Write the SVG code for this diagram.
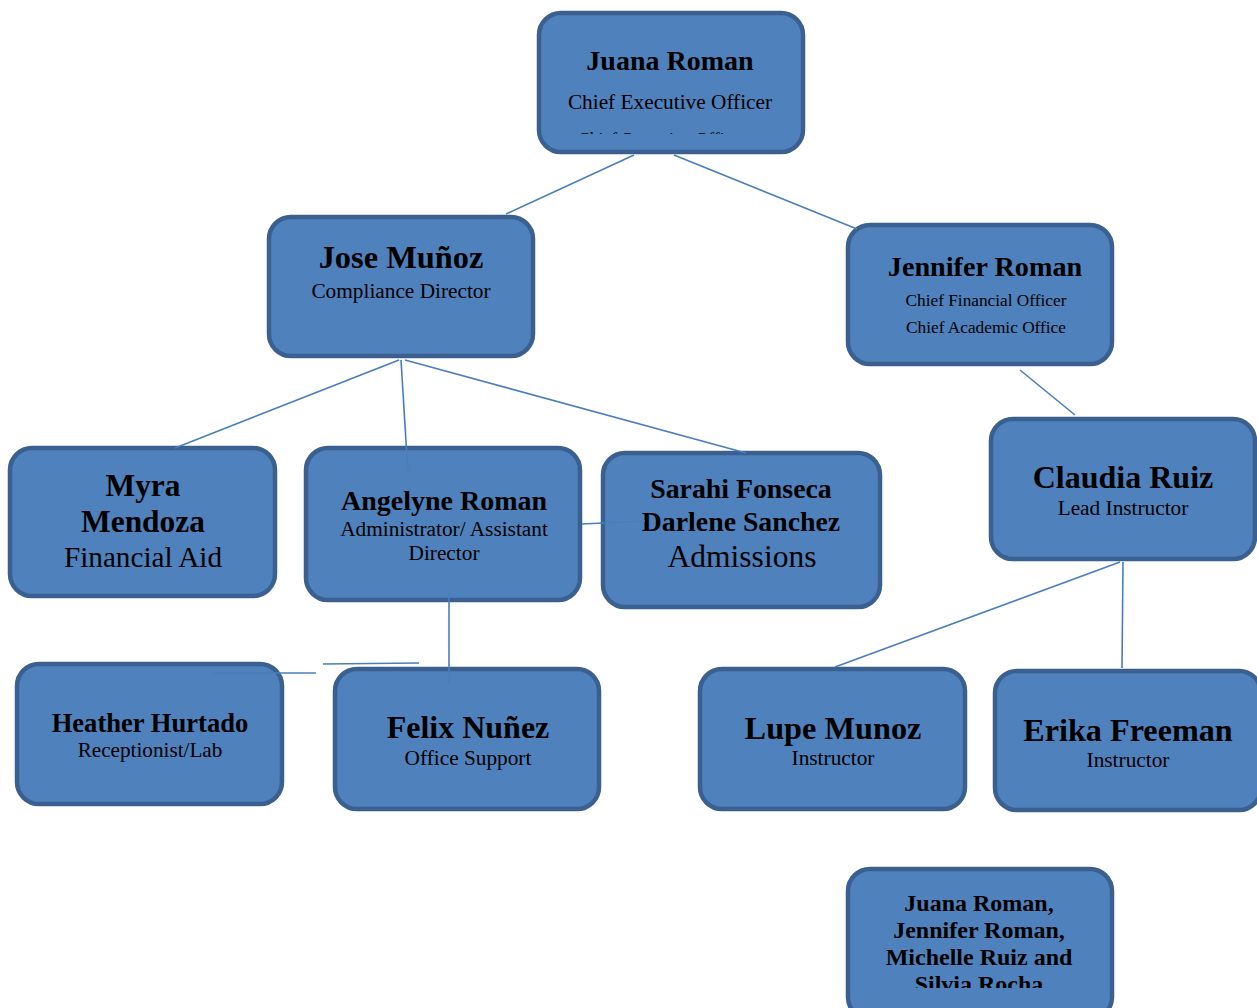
<svg xmlns="http://www.w3.org/2000/svg" width="1257" height="1008" viewBox="0 0 1257 1008">
<style>
.box{fill:#4f81bd;stroke:#3b5f8e;stroke-width:4.5}
.n{font-family:"Liberation Serif","Times New Roman",serif;font-weight:bold;fill:#000;text-anchor:middle}
.t{font-family:"Liberation Serif","Times New Roman",serif;fill:#000;text-anchor:middle}
.c line{stroke:#4a7ebb;stroke-width:1.6}
</style>
<defs>
<clipPath id="clipTop"><rect x="530" y="0" width="280" height="134"/></clipPath>
<clipPath id="clipBot"><rect x="840" y="860" width="280" height="128"/></clipPath>
</defs>
<rect width="1257" height="1008" fill="#fff"/>
<g id="juana">
<rect class="box" x="539" y="13" width="264" height="139" rx="22"/>
<text class="n" x="670" y="70" font-size="28">Juana Roman</text>
<text class="t" x="670" y="109" font-size="21.3">Chief Executive Officer</text>
<text class="t" x="662" y="144" font-size="17.5" clip-path="url(#clipTop)">Chief Operating Officer</text>
</g>
<g id="jose">
<rect class="box" x="269" y="217" width="264" height="139" rx="22"/>
<text class="n" x="401" y="268" font-size="32.4">Jose Muñoz</text>
<text class="t" x="401" y="298" font-size="21.3">Compliance Director</text>
</g>
<g id="jennifer">
<rect class="box" x="848" y="225" width="264" height="139" rx="22"/>
<text class="n" x="985" y="276" font-size="28.2">Jennifer Roman</text>
<text class="t" x="986" y="306" font-size="17.3">Chief Financial Officer</text>
<text class="t" x="986" y="333" font-size="17.3">Chief Academic Office</text>
</g>
<g id="myra">
<rect class="box" x="10" y="448" width="265" height="148" rx="22"/>
<text class="n" x="143" y="496" font-size="31.4">Myra</text>
<text class="n" x="143" y="532" font-size="31.4">Mendoza</text>
<text class="t" x="143" y="567" font-size="29.2">Financial Aid</text>
</g>
<g id="angelyne">
<rect class="box" x="306" y="448" width="274" height="152" rx="22"/>
<text class="n" x="444" y="510" font-size="28">Angelyne Roman</text>
<text class="t" x="444" y="536" font-size="21.3">Administrator/ Assistant</text>
<text class="t" x="444" y="560" font-size="21.3">Director</text>
</g>
<g id="sarahi">
<rect class="box" x="603" y="453" width="277" height="154" rx="22"/>
<text class="n" x="741" y="498" font-size="27.8">Sarahi Fonseca</text>
<text class="n" x="741" y="531" font-size="27.8">Darlene Sanchez</text>
<text class="t" x="742" y="567" font-size="31.5">Admissions</text>
</g>
<g id="claudia">
<rect class="box" x="991" y="419" width="264" height="140" rx="22"/>
<text class="n" x="1123" y="488" font-size="32">Claudia Ruiz</text>
<text class="t" x="1123" y="515" font-size="21.3">Lead Instructor</text>
</g>
<g id="heather">
<rect class="box" x="17" y="664" width="265" height="140" rx="22"/>
<text class="n" x="150" y="732" font-size="26.6">Heather Hurtado</text>
<text class="t" x="150" y="757" font-size="21.2">Receptionist/Lab</text>
</g>
<g id="felix">
<rect class="box" x="335" y="669" width="264" height="140" rx="22"/>
<text class="n" x="468" y="738" font-size="32">Felix Nuñez</text>
<text class="t" x="468" y="765" font-size="21.3">Office Support</text>
</g>
<g id="lupe">
<rect class="box" x="700" y="669" width="265" height="140" rx="22"/>
<text class="n" x="833" y="739" font-size="32.3">Lupe Munoz</text>
<text class="t" x="833" y="765" font-size="21.3">Instructor</text>
</g>
<g id="erika">
<rect class="box" x="995" y="671" width="266" height="139" rx="22"/>
<text class="n" x="1128" y="741" font-size="32.2">Erika Freeman</text>
<text class="t" x="1128" y="767" font-size="21.3">Instructor</text>
</g>
<g id="board">
<rect class="box" x="848" y="869" width="264" height="150" rx="22"/>
<g clip-path="url(#clipBot)">
<text class="n" x="979" y="911" font-size="24">Juana Roman,</text>
<text class="n" x="979" y="938" font-size="24">Jennifer Roman,</text>
<text class="n" x="979" y="965" font-size="24">Michelle Ruiz and</text>
<text class="n" x="979" y="992" font-size="24">Silvia Rocha</text>
</g>
</g>
<g id="connectors" class="c">
<line x1="634" y1="155" x2="506" y2="214"/>
<line x1="674" y1="155" x2="857" y2="229"/>
<line x1="399" y1="360" x2="175" y2="448"/>
<line x1="401" y1="360" x2="408" y2="474"/>
<line x1="405" y1="360" x2="746" y2="453"/>
<line x1="582" y1="524" x2="645" y2="521"/>
<line x1="1020" y1="370" x2="1075" y2="415"/>
<line x1="1120" y1="562" x2="835" y2="667"/>
<line x1="1123" y1="562" x2="1122" y2="668"/>
<line x1="449" y1="592" x2="449" y2="684"/>
<line x1="213" y1="673" x2="316" y2="673"/>
<line x1="323" y1="664" x2="419" y2="663"/>
</g>
</svg>
